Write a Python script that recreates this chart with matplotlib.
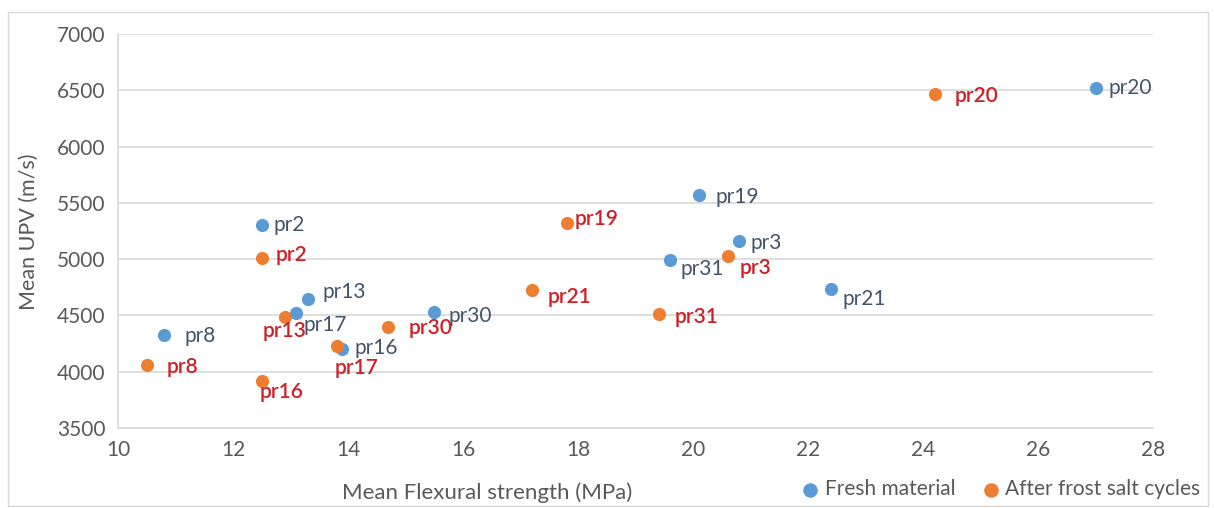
import matplotlib
matplotlib.use("Agg")
import matplotlib.pyplot as plt
from matplotlib.patches import Rectangle

plt.rcParams["font.family"] = ["Lato", "DejaVu Sans"]

# Fresh material
fresh_names = ["pr20", "pr19", "pr2", "pr3", "pr31", "pr21", "pr13", "pr17", "pr30", "pr8", "pr16"]
fresh_strength = [27.0, 20.1, 12.5, 20.8, 19.6, 22.4, 13.3, 13.1, 15.5, 10.8, 13.9]
fresh_upv = [6520, 5570, 5300, 5160, 4995, 4735, 4645, 4520, 4530, 4325, 4200]

# After frost salt cycles
frost_names = ["pr20", "pr19", "pr2", "pr3", "pr21", "pr31", "pr13", "pr30", "pr17", "pr8", "pr16"]
frost_strength = [24.2, 17.8, 12.5, 20.6, 17.2, 19.4, 12.9, 14.7, 13.8, 10.5, 12.5]
frost_upv = [6465, 5320, 5010, 5030, 4725, 4510, 4485, 4395, 4230, 4060, 3915]

# label offsets in pixels (dx, dy downwards)
fresh_off = [(13, 0), (17, 2), (12, 0), (11, 2), (10, 9), (11, 10), (15, -7), (7, 12), (14, 4), (20, 1), (12, -1)]
frost_off = [(20, 2), (8, -4), (14, -3), (12, 12), (16, 7), (16, 3), (-22, 14), (20, 1), (-2, 22), (20, 2), (-2, 11)]

blue = "#5B9BD5"
orange = "#ED7D31"
grid_c = "#D9D9D9"
tick_c = "#595959"
fs = 15

fig = plt.figure(figsize=(12.14, 5.08), dpi=100)
ax = fig.add_axes([118 / 1214, 1 - 428 / 508, (1153 - 118) / 1214, (428 - 34) / 508])

ax.scatter(fresh_strength, fresh_upv, s=90, color=blue, zorder=3, label="Fresh material", linewidths=0)
ax.scatter(frost_strength, frost_upv, s=90, color=orange, zorder=3, label="After frost salt cycles", linewidths=0)

pt = 72 / 100
for name, x, y, (dx, dy) in zip(fresh_names, fresh_strength, fresh_upv, fresh_off):
    ax.annotate(name, (x, y), xytext=(dx * pt, -dy * pt), textcoords="offset points",
                ha="left", va="center", fontsize=fs, color="#44546A", zorder=4)
for name, x, y, (dx, dy) in zip(frost_names, frost_strength, frost_upv, frost_off):
    ax.annotate(name, (x, y), xytext=(dx * pt, -dy * pt), textcoords="offset points",
                ha="left", va="center", fontsize=fs, color="#D01F26", fontweight="semibold", zorder=4)

ax.set_xlim(10, 28)
ax.set_ylim(3500, 7000)
ax.set_xticks(range(10, 29, 2))
ax.set_yticks(range(3500, 7001, 500))
ax.grid(axis="y", color=grid_c, linewidth=1.2)
ax.set_axisbelow(True)
for side in ["top", "right"]:
    ax.spines[side].set_visible(False)
ax.spines["left"].set_color(grid_c)
ax.spines["bottom"].set_color(grid_c)
ax.spines["left"].set_linewidth(1.2)
ax.spines["bottom"].set_linewidth(1.2)
ax.tick_params(length=0, labelsize=fs, labelcolor=tick_c, pad=9)

fig.text(487 / 1214, 1 - 493 / 508, "Mean Flexural strength (MPa)", ha="center", va="center",
         fontsize=fs + 1, color=tick_c)
fig.text(29 / 1214, 1 - 232 / 508, "Mean UPV (m/s)", ha="center", va="center",
         rotation=90, fontsize=fs + 0.5, color=tick_c)

fig.legend(loc="center", bbox_to_anchor=(995 / 1214, 1 - 489 / 508), ncol=2, frameon=False,
           fontsize=fs, labelcolor=tick_c, handletextpad=-0.3, columnspacing=0.7,
           markerscale=1.1, borderaxespad=0)

fig.patches.append(Rectangle((8 / 1214, 2 / 508), 1200 / 1214, 494 / 508, transform=fig.transFigure,
                             fill=False, edgecolor="#D9D9D9", linewidth=1))

fig.savefig("out.png", dpi=100)
